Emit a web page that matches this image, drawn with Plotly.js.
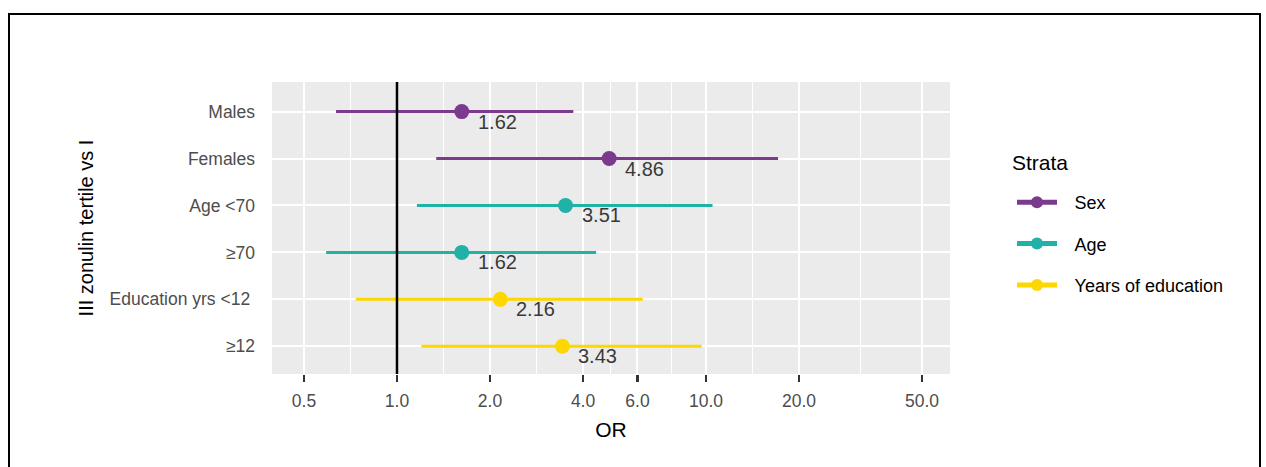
<!DOCTYPE html>
<html>
<head>
<meta charset="utf-8">
<script src="https://cdn.plot.ly/plotly-3.0.1.min.js"></script>
<style>html,body{margin:0;padding:0;background:#fff;}</style>
</head>
<body>
<div id="chart" style="width:1266px;height:467px;"></div>
<script>
// ---- data ----
const categories = ["Males", "Females", "Age <70", "≥70", "Education yrs <12\u00a0", "≥12"];
const groups = ["Sex", "Sex", "Age", "Age", "Years of education", "Years of education"];
const orValues = [1.62, 4.86, 3.51, 1.62, 2.16, 3.43];
const ciLower = [0.635, 1.34, 1.16, 0.59, 0.735, 1.20];
const ciUpper = [3.72, 17.1, 10.5, 4.41, 6.24, 9.68];
const orLabels = ["1.62", "4.86", "3.51", "1.62", "2.16", "3.43"];
const strata = ["Sex", "Age", "Years of education"];
const strataColors = ["#7B3A8E", "#20B2A6", "#FFD700"];
const xTickVals = [0.5, 1, 2, 4, 6, 10, 20, 50];
const xTickText = ["0.5", "1.0", "2.0", "4.0", "6.0", "10.0", "20.0", "50.0"];
const xMinorVals = [0.707, 1.414, 2.83, 4.9, 7.75, 14.1, 31.6];

const FONT = "Liberation Sans, Arial, sans-serif";

// ---- traces: one per stratum, CI segment + point ----
const traces = strata.map((s, gi) => {
  const x = [], y = [], sz = [];
  categories.forEach((c, i) => {
    if (groups[i] !== s) return;
    x.push(ciLower[i], orValues[i], ciUpper[i], null);
    y.push(c, c, c, null);
    sz.push(0, 15, 0, 0);
  });
  return {
    type: "scatter", mode: "lines+markers", name: "\u2002\u2009" + s,
    x: x, y: y, connectgaps: false,
    legendgroup: "g" + gi,
    line: {color: strataColors[gi], width: 3},
    marker: {color: strataColors[gi], size: sz, opacity: 1, line: {width: 0}},
    hoverinfo: "skip"
  };
});

const annotations = categories.map((c, i) => ({
  x: Math.log10(orValues[i]), y: c, xref: "x", yref: "y",
  text: orLabels[i], showarrow: false,
  xanchor: "left", yanchor: "middle", xshift: 14, yshift: -10,
  font: {family: FONT, size: 20, color: "#3a3a3a"}
}));
annotations.push({
  xref: "paper", yref: "paper",
  x: (1010 - 272) / 678, y: 1 - (162 - 82) / 292,
  xanchor: "left", yanchor: "middle", showarrow: false,
  text: "Strata", font: {family: FONT, size: 21, color: "#000"}
});

const layout = {
  width: 1266, height: 467,
  margin: {l: 272, r: 316, t: 82, b: 93},
  paper_bgcolor: "#ffffff",
  plot_bgcolor: "#EBEBEB",
  font: {family: FONT, color: "#000"},
  showlegend: true,
  legend: {
    font: {family: FONT, size: 18, color: "#000"},
    xref: "container", yref: "container",
    x: 1012 / 1266, xanchor: "left",
    y: 1 - 184 / 467, yanchor: "top",
    traceorder: "grouped", tracegroupgap: 15,
    itemsizing: "constant", itemwidth: 40,
    bgcolor: "rgba(0,0,0,0)"
  },
  xaxis: {
    type: "log",
    range: [-0.4045, 1.7896],
    tickmode: "array", tickvals: xTickVals, ticktext: xTickText,
    ticks: "outside", ticklen: 7, tickwidth: 2.5, tickcolor: "#333",
    ticklabelstandoff: 4,
    tickfont: {family: FONT, size: 17.5, color: "#4D4D4D"},
    showgrid: true, gridcolor: "#ffffff", gridwidth: 2,
    minor: {tickmode: "array", tickvals: xMinorVals, showgrid: true, gridcolor: "#ffffff", gridwidth: 1, ticks: ""},
    zeroline: false, showline: false,
    title: {text: "OR", font: {family: FONT, size: 21, color: "#000"}, standoff: 12},
    fixedrange: true
  },
  yaxis: {
    type: "category",
    categoryorder: "array", categoryarray: categories,
    range: [5.59, -0.63],
    ticks: "", ticklabelstandoff: 16,
    tickfont: {family: FONT, size: 17.5, color: "#4D4D4D"},
    showgrid: true, gridcolor: "#ffffff", gridwidth: 2,
    zeroline: false, showline: false,
    title: {text: "III zonulin tertile vs I", font: {family: FONT, size: 20, color: "#000"}, standoff: 10},
    fixedrange: true
  },
  shapes: [
    {type: "line", xref: "x", yref: "paper", x0: 1, x1: 1, y0: 0, y1: 1,
     line: {color: "#000", width: 2.5}, layer: "above"},
    {type: "rect", xref: "paper", yref: "paper",
     x0: (9 - 272) / 678, x1: (1260 - 272) / 678,
     y0: -0.34, y1: 1 + 68 / 292,
     line: {color: "#000", width: 2}, fillcolor: "rgba(0,0,0,0)", layer: "above"}
  ],
  annotations: annotations
};

Plotly.newPlot("chart", traces, layout, {displayModeBar: false, staticPlot: true});
</script>
</body>
</html>
